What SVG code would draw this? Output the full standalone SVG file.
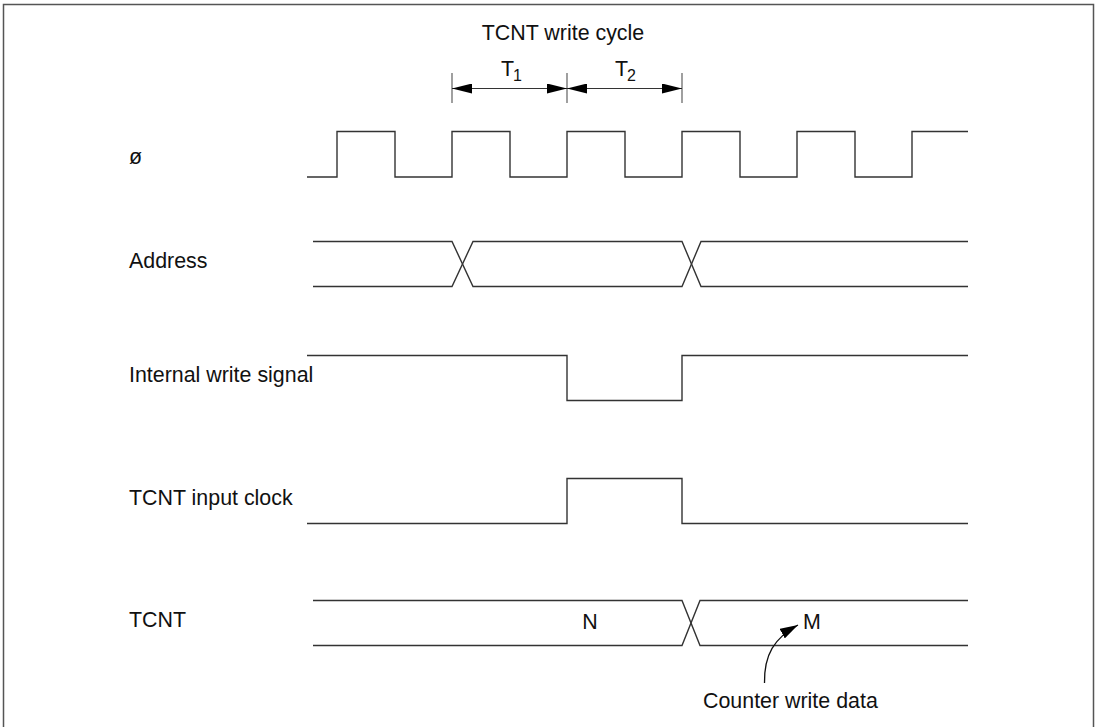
<svg xmlns="http://www.w3.org/2000/svg" width="1098" height="727" viewBox="0 0 1098 727">
<style>
.sig{fill:none;stroke:#333;stroke-width:1.4}
.lbl{font-family:"Liberation Sans",Arial,sans-serif;font-size:21.4px;fill:#111}
.sub{font-family:"Liberation Sans",Arial,sans-serif;font-size:16px;fill:#111}
.tick{stroke:#777;stroke-width:1.4}
.dim{stroke:#333;stroke-width:1.2;fill:none}
</style>
<defs>
<marker id="ah" viewBox="0 0 20 10" refX="20" refY="5" markerWidth="20" markerHeight="10" markerUnits="userSpaceOnUse" orient="auto-start-reverse">
<path d="M0,0 L20,5 L0,10 Z" fill="#000"/>
</marker>
<marker id="ah2" viewBox="0 0 18 11" refX="18" refY="5.5" markerWidth="18" markerHeight="11" markerUnits="userSpaceOnUse" orient="auto">
<path d="M0,0 L18,5.5 L0,11 Z" fill="#000"/>
</marker>
</defs>
<rect width="1098" height="727" fill="#fff"/>
<path d="M3.5,740 V4.5 H1093.5 V740" fill="none" stroke="#555" stroke-width="1.5"/>

<g id="title">
<text class="lbl" x="563" y="40" text-anchor="middle">TCNT write cycle</text>
<text class="lbl" x="501" y="76">T</text><text class="sub" x="513" y="81">1</text>
<text class="lbl" x="615" y="76">T</text><text class="sub" x="627" y="81">2</text>
</g>

<g id="cycle-dims">
<line class="tick" x1="452" y1="73" x2="452" y2="103"/>
<line class="tick" x1="567" y1="73" x2="567" y2="103"/>
<line class="tick" x1="682" y1="73" x2="682" y2="103"/>
<line class="dim" x1="452" y1="88.5" x2="567" y2="88.5" marker-start="url(#ah)" marker-end="url(#ah)"/>
<line class="dim" x1="567" y1="88.5" x2="682" y2="88.5" marker-start="url(#ah)" marker-end="url(#ah)"/>
</g>

<g id="phi">
<text class="lbl" x="129" y="164">ø</text>
<path class="sig" d="M307,177 H337 V131.5 H395 V177 H452 V131.5 H510 V177 H567 V131.5 H625 V177 H682 V131.5 H740 V177 H797 V131.5 H855 V177 H912 V131.5 H968"/>
</g>

<g id="address">
<text class="lbl" x="129" y="268">Address</text>
<path class="sig" d="M313,241.5 H452 L473,286.5 H682 L701,241.5 H968"/>
<path class="sig" d="M313,286.5 H452 L473,241.5 H682 L701,286.5 H968"/>
</g>

<g id="internal-write">
<text class="lbl" x="129" y="382">Internal write signal</text>
<path class="sig" d="M307,355.5 H567 V400.5 H682 V355.5 H968"/>
</g>

<g id="tcnt-input-clock">
<text class="lbl" x="129" y="505">TCNT input clock</text>
<path class="sig" d="M307,523.5 H567 V478.5 H682 V523.5 H968"/>
</g>

<g id="tcnt">
<text class="lbl" x="129" y="627">TCNT</text>
<path class="sig" d="M313,600.5 H682 L700,645.5 H968"/>
<path class="sig" d="M313,645.5 H682 L700,600.5 H968"/>
<text class="lbl" x="590" y="629" text-anchor="middle">N</text>
<text class="lbl" x="812" y="629" text-anchor="middle">M</text>
</g>

<g id="annotation">
<text class="lbl" x="703" y="708">Counter write data</text>
</g>

<g id="connectors">
<path d="M764.5,683 C764,655 774,638 798,625" fill="none" stroke="#111" stroke-width="1.3" marker-end="url(#ah2)"/>
</g>
</svg>
